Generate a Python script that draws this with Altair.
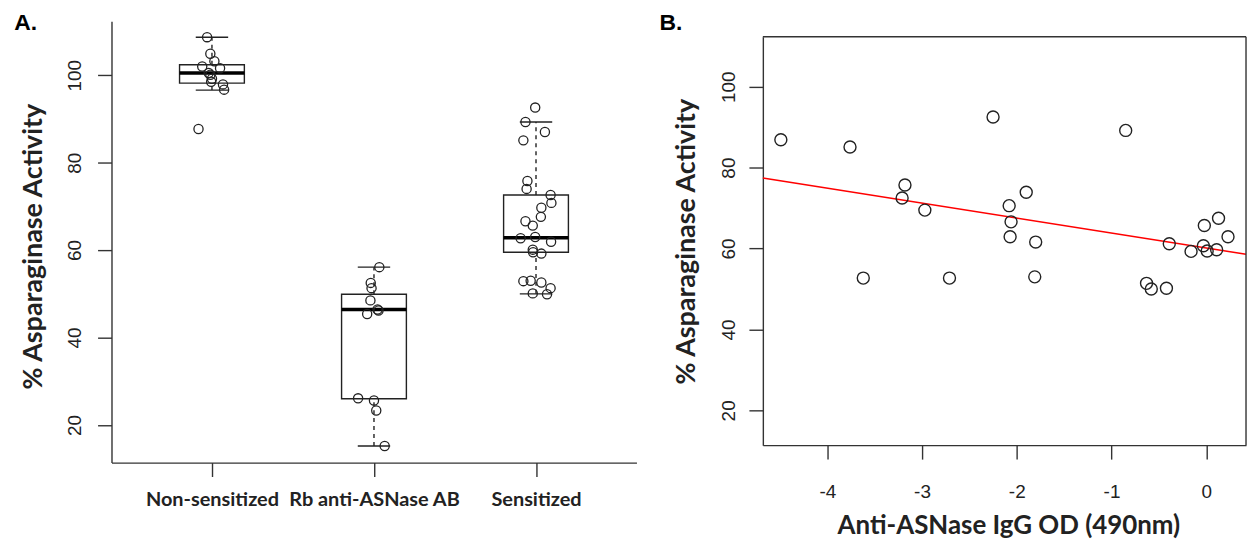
import altair as alt
import pandas as pd

# ---------------- data ----------------
groups = ["Non-sensitized", "Rb anti-ASNase AB", "Sensitized"]
q1 = [98.2, 26.0, 59.5]
median = [100.5, 46.4, 62.8]
q3 = [102.4, 49.9, 72.6]
whisker_low = [96.6, 15.2, 50.0]
whisker_high = [108.7, 56.1, 89.3]

nonsens_vals = [108.7, 104.9, 103.2, 102.0, 101.6, 100.5, 100.1, 99.2, 98.5, 97.9, 96.7, 87.7]
nonsens_jit = [-0.03, -0.01, 0.015, -0.06, 0.05, -0.02, -0.01, 0.0, -0.005, 0.068, 0.075, -0.083]

rb_vals = [56.1, 52.5, 51.3, 48.5, 46.4, 45.4, 46.2, 26.1, 25.6, 23.3, 15.2]
rb_jit = [0.033, -0.02, -0.015, -0.022, 0.022, -0.042, 0.028, -0.098, 0.0, 0.014, 0.066]

sens_vals = [92.6, 89.3, 87.0, 85.1, 75.8, 74.0, 72.6, 70.8, 69.7, 67.6, 66.6, 65.6,
             62.7, 63.0, 61.9, 60.1, 59.5, 59.2, 52.9, 53.0, 52.6, 51.3, 50.1, 49.9]
sens_jit = [-0.005, -0.065, 0.055, -0.078, -0.053, -0.058, 0.09, 0.095, 0.033, 0.03, -0.065, -0.02,
            -0.095, -0.005, 0.093, -0.02, -0.018, 0.033, -0.078, -0.033, 0.033, 0.09, -0.02, 0.068]

od_vals = [-4.49, -3.76, -3.18, -3.21, -2.97, -3.62, -2.71, -2.25, -0.85, -1.90, -2.08, -2.06, -2.07,
           -1.80, -1.81, -0.39, -0.63, -0.58, -0.42, -0.16, -0.02, 0.13, 0.23, -0.03, 0.01, 0.11]
act_vals = [86.9, 85.1, 75.7, 72.5, 69.5, 52.7, 52.7, 92.5, 89.2, 73.9, 70.6, 66.6, 62.9,
            61.6, 53.0, 61.2, 51.4, 50.0, 50.2, 59.3, 65.7, 67.5, 62.9, 60.7, 59.4, 59.7]

y_ticks = [20, 40, 60, 80, 100]
x_ticks_b = [-4, -3, -2, -1, 0]

# ---------------- tables ----------------
box_df = pd.DataFrame({
    "pos": [i + 1 for i in range(len(groups))],
    "group": groups, "q1": q1, "median": median, "q3": q3,
    "lo": whisker_low, "hi": whisker_high,
})
box_df["bl"] = box_df["pos"] - 0.2
box_df["br"] = box_df["pos"] + 0.2
box_df["cl"] = box_df["pos"] - 0.1
box_df["cr"] = box_df["pos"] + 0.1

pts = []
for gi, (vals, jit) in enumerate([(nonsens_vals, nonsens_jit), (rb_vals, rb_jit), (sens_vals, sens_jit)]):
    for v, j in zip(vals, jit):
        pts.append({"x": gi + 1 + j, "value": v})
pts_df = pd.DataFrame(pts)

b_df = pd.DataFrame({"od": od_vals, "act": act_vals})

YDOM = [11.4, 112.35]
INK = "#222222"
AX = "#333333"

label_expr = " : ".join(
    [f"datum.value == {i + 1} ? '{g}'" for i, g in enumerate(groups[:-1])] + [f"'{groups[-1]}'"]
)

# ---------------- panel A ----------------
WA, HA = 527.5, 443.5
xA_scale = alt.Scale(domain=[0.38, 3.62], nice=False, zero=False)
xA = alt.X("x:Q", scale=xA_scale,
           axis=alt.Axis(values=[1, 2, 3], labelExpr=label_expr, title=None,
                         labelFont="Lato", labelFontWeight="bold", labelFontSize=20,
                         labelPadding=13, labelOverlap=False, labelFlush=False))
yA_scale = alt.Scale(domain=YDOM, nice=False, zero=False)
yA_axis = alt.Axis(values=y_ticks, format="d", labelAngle=270, labelAlign="center",
                   labelBaseline="alphabetic", labelPadding=17, labelFlush=False,
                   title="% Asparaginase Activity", titleAngle=270, titleBaseline="alphabetic",
                   titleAlign="center", titleX=-70, titleY=226)

base_box = alt.Chart(box_df)
box = base_box.mark_bar(fill="white", stroke=INK, strokeWidth=1.4).encode(
    x=alt.X("bl:Q", scale=xA_scale), x2="br:Q",
    y=alt.Y("q1:Q", scale=yA_scale, axis=yA_axis), y2="q3:Q")
wh_up = base_box.mark_rule(color=INK, strokeWidth=1.4, strokeDash=[4, 4]).encode(
    x="pos:Q", y="q3:Q", y2="hi:Q")
wh_lo = base_box.mark_rule(color=INK, strokeWidth=1.4, strokeDash=[4, 4]).encode(
    x="pos:Q", y="lo:Q", y2="q1:Q")
cap_up = base_box.mark_rule(color=INK, strokeWidth=1.4).encode(x="cl:Q", x2="cr:Q", y="hi:Q")
cap_lo = base_box.mark_rule(color=INK, strokeWidth=1.4).encode(x="cl:Q", x2="cr:Q", y="lo:Q")
med = base_box.mark_rule(color="black", strokeWidth=3.5).encode(x="bl:Q", x2="br:Q", y="median:Q")

ptsA = alt.Chart(pts_df).mark_point(shape="circle", filled=False, size=85, strokeWidth=1.3,
                                    color=INK, opacity=1).encode(
    x=xA, y=alt.Y("value:Q", scale=yA_scale, axis=yA_axis))

labA = alt.Chart(alt.Data(values=[{}])).mark_text(
    text="A.", font="Liberation Sans", fontWeight="bold", fontSize=23, align="left",
    baseline="alphabetic", color="black").encode(x=alt.value(-97.7), y=alt.value(9.3))

panelA = alt.layer(box, wh_up, wh_lo, cap_up, cap_lo, med, ptsA, labA).properties(
    width=WA, height=HA, view=alt.ViewBackground(stroke="transparent", strokeWidth=0))

# ---------------- panel B ----------------
# view spans from the same top as panel A; the framed plot starts 15.6 px lower
WB, HB, TOPB = 485.5, 426.0, 15.6
xB_scale = alt.Scale(domain=[-4.68, 0.42], nice=False, zero=False)
xB_axis = alt.Axis(values=x_ticks_b, format="d", labelExpr="replace(datum.label, '\u2212', '-')",
                   labelPadding=24, labelFlush=False,
                   title="Anti-ASNase IgG OD (490nm)", titleBaseline="alphabetic",
                   titleAlign="center", titleX=246.7, titleY=89, titleFontSize=26)
yB_scale = alt.Scale(domain=YDOM, nice=False, zero=False, range=[HB, TOPB])
yB_axis = alt.Axis(values=y_ticks, format="d", labelAngle=270, labelAlign="center",
                   labelBaseline="alphabetic", labelPadding=14, labelFlush=False,
                   title="% Asparaginase Activity", titleAngle=270, titleBaseline="alphabetic",
                   titleAlign="center", titleX=-68.8, titleY=221)

ptsB = alt.Chart(b_df).mark_point(shape="circle", filled=False, size=145, strokeWidth=1.4,
                                  color=INK, opacity=1).encode(
    x=alt.X("od:Q", scale=xB_scale, axis=xB_axis),
    y=alt.Y("act:Q", scale=yB_scale, axis=yB_axis))
reg = alt.Chart(b_df).transform_regression("od", "act", extent=[-4.68, 0.42]).mark_line(
    color="#ff0000", strokeWidth=1.5).encode(x="od:Q", y="act:Q")
frame_top = alt.Chart(alt.Data(values=[{}])).mark_rule(color=AX, strokeWidth=1.4).encode(
    x=alt.value(0), x2=alt.value(WB), y=alt.value(TOPB))
frame_right = alt.Chart(alt.Data(values=[{}])).mark_rule(color=AX, strokeWidth=1.4).encode(
    x=alt.value(WB), y=alt.value(TOPB), y2=alt.value(HB))
labB = alt.Chart(alt.Data(values=[{}])).mark_text(
    text="B.", font="Liberation Sans", fontWeight="bold", fontSize=23, align="left",
    baseline="alphabetic", color="black").encode(x=alt.value(-103.8), y=alt.value(9))

panelB = alt.layer(reg, ptsB, frame_top, frame_right, labB).properties(
    width=WB, height=HB, view=alt.ViewBackground(stroke="transparent", strokeWidth=0))

chart = alt.hconcat(panelA, panelB, spacing=22.5).properties(
    padding={"left": 6, "top": 3, "right": 0, "bottom": 0}
).configure_axis(
    grid=False, domainColor=AX, tickColor=AX, domainWidth=1.4, tickWidth=1.4, tickSize=14,
    labelFont="Liberation Sans", labelFontSize=19, labelColor=INK,
    titleFont="Lato", titleFontWeight="bold", titleFontSize=27, titleColor=INK,
)

chart.save("out.html", embed_options={"renderer": "svg", "actions": False})
